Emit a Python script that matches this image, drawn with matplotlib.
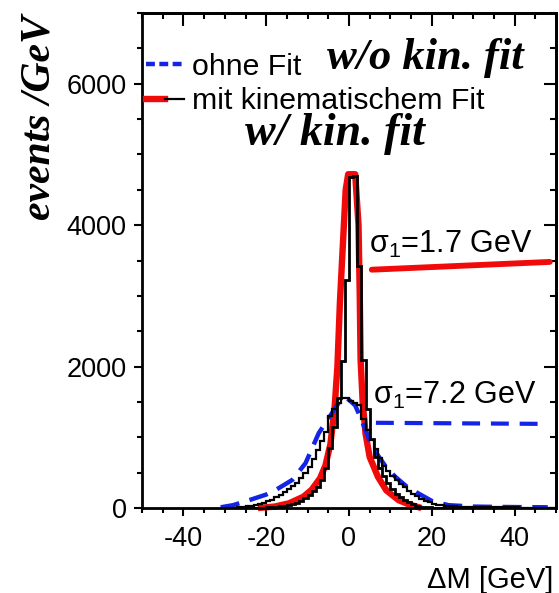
import numpy as np
import matplotlib
matplotlib.use("Agg")
import matplotlib.pyplot as plt
from matplotlib.lines import Line2D
from matplotlib.legend_handler import HandlerTuple
from matplotlib.ticker import MultipleLocator

plt.rcParams['font.family'] = ['Liberation Sans', 'DejaVu Sans']
plt.rcParams['mathtext.fontset'] = 'custom'
plt.rcParams['mathtext.rm'] = 'Liberation Sans'
plt.rcParams['axes.unicode_minus'] = False

# Histogram binning (1 GeV bins)
bin_edges = np.arange(-30, 51, 1)

# Mass difference without kinematic fit (events per bin)
counts_no_fit = [
    0, 0, 5, 10, 15, 25, 35, 45, 60, 75,
    95, 120, 150, 190, 230, 270, 310, 360, 420, 500,
    580, 690, 820, 950, 1080, 1300, 1400, 1480, 1560, 1550,
    1520, 1490, 1450, 1260, 1110, 960, 830, 710, 600, 520,
    450, 390, 340, 290, 240, 200, 165, 130, 105, 80,
    62, 48, 38, 30, 26, 22, 20, 18, 16, 14,
    13, 12, 12, 11, 10, 10, 9, 9, 8, 8,
    8, 7, 7, 6, 6, 6, 5, 5, 5, 4,
]

# Mass difference with kinematic fit (events per bin)
counts_kin_fit = [
    0, 0, 0, 0, 0, 0, 0, 2, 3, 5,
    8, 12, 16, 22, 30, 40, 55, 75, 100, 140,
    185, 240, 300, 400, 560, 850, 1150, 1550, 2080, 3230,
    4680, 4700, 3420, 2100, 1400, 980, 720, 560, 450, 350,
    270, 200, 150, 110, 78, 50, 32, 20, 12, 8,
    5, 3, 2, 1, 0, 0, 0, 0, 0, 0,
    0, 0, 0, 0, 0, 0, 0, 0, 0, 0,
    0, 0, 0, 0, 0, 0, 0, 0, 0, 0,
]

# Fitted curves
fit_no_x = [-31, -28, -24, -20, -17.7, -13.7, -10.5, -7.3, -4.1, -2, -1, 0,
            1.5, 3, 5.5, 8.7, 11.1, 14, 16.7, 20, 24, 30, 36, 42, 48]
fit_no_y = [10, 40, 113, 190, 255, 397, 634, 1060, 1343, 1530, 1560, 1530,
            1450, 1250, 870, 600, 445, 300, 208, 100, 40, 20, 15, 12, 10]

fit_kin_x = [-22, -18, -14.5, -11, -9, -7, -5.7, -4.5, -3.5, -2.8, -2.2, -1.5,
             -0.8, -0.2, 1.5, 2.3, 2.6, 2.8, 3.3, 4, 5, 7, 9, 12, 14.5, 17.5]
fit_kin_y = [0, 20, 66, 160, 260, 420, 600, 900, 1400, 2000, 2900, 3700,
             4500, 4720, 4720, 4000, 3000, 2100, 1500, 1050, 720, 440, 250,
             110, 50, 0]

sigma_kin = 1.7
sigma_no = 7.2

RED = '#f00a0a'
BLUE = '#1424e6'

fig = plt.figure(figsize=(5.59, 5.93), dpi=100)
ax = fig.add_axes([142 / 559, 1 - 508 / 593, 414 / 559, 495 / 593])

# fits underneath, histograms on top
ax.plot(fit_kin_x, fit_kin_y, color=RED, lw=4.6, solid_capstyle='butt',
        zorder=2, clip_on=False)
ax.plot(fit_no_x, fit_no_y, color=BLUE, lw=3.2, dashes=(4.3, 2.4),
        zorder=2)
ax.stairs(counts_no_fit, bin_edges, color='black', lw=1.6, zorder=3)
ax.stairs(counts_kin_fit, bin_edges, color='black', lw=2.0, zorder=3)

ax.set_xlim(-50, 50)
ax.set_ylim(0, 7000)
ax.xaxis.set_major_locator(MultipleLocator(20))
ax.xaxis.set_minor_locator(MultipleLocator(5))
ax.yaxis.set_major_locator(MultipleLocator(2000))
ax.yaxis.set_minor_locator(MultipleLocator(500))
ax.tick_params(which='both', direction='out', width=1.5, labelsize=19.5)
ax.tick_params(axis='x', pad=7)
ax.tick_params(axis='y', pad=5)
ax.tick_params(which='major', length=6)
ax.tick_params(which='minor', length=3.5)
for s in ax.spines.values():
    s.set_linewidth(2.0)

# mirrored inward ticks on the top and right edges
top = ax.secondary_xaxis('top')
top.xaxis.set_major_locator(MultipleLocator(20))
top.xaxis.set_minor_locator(MultipleLocator(5))
top.tick_params(which='both', direction='in', labeltop=False, width=1.5)
top.tick_params(which='major', length=9)
top.tick_params(which='minor', length=4)
top.spines['top'].set_linewidth(2.0)
right = ax.secondary_yaxis('right')
right.yaxis.set_major_locator(MultipleLocator(2000))
right.yaxis.set_minor_locator(MultipleLocator(500))
right.tick_params(which='both', direction='in', labelright=False, width=1.5)
right.tick_params(which='major', length=9)
right.tick_params(which='minor', length=4)
right.spines['right'].set_linewidth(2.0)

# legend
h_no = Line2D([], [], color=BLUE, lw=3.2, dashes=(2.0, 1.0))
h_kin_red = Line2D([], [], color=RED, lw=4.6)
h_kin_blk = Line2D([], [], color='black', lw=1.6)
ax.legend([h_no, (h_kin_red, h_kin_blk)],
          ['ohne Fit', 'mit kinematischem Fit'],
          handler_map={tuple: HandlerTuple(ndivide=None)},
          loc='upper left', bbox_to_anchor=(0.01, 0.92), frameon=False,
          fontsize=21.8, handlelength=1.25, handletextpad=0.25,
          labelspacing=0.22, borderpad=0, borderaxespad=0)

# fit widths
ax.text(4.8, 3730, 'σ$_\\mathregular{1}$=%.1f GeV' % sigma_kin,
        fontsize=22, ha='left', va='center')
ax.plot([5.5, 48.5], [3370, 3480], color=RED, lw=4.2,
        solid_capstyle='round')
ax.text(5.8, 1590, 'σ$_\\mathregular{1}$=%.1f GeV' % sigma_no,
        fontsize=22, ha='left', va='center')
ax.plot([6.5, 46], [1205, 1190], color=BLUE, lw=3.0, dashes=(4.3, 2.6))

# handwritten notes
hand = dict(family='Liberation Serif', style='italic', weight='bold',
            color='black')
fig.text(40 / 559, 1 - 118 / 593, 'events /GeV', rotation=90,
         ha='center', va='center', fontsize=30, **hand)
fig.text(425 / 559, 1 - 58 / 593, 'w/o kin. fit', ha='center',
         va='center', fontsize=32, **hand)
fig.text(335 / 559, 1 - 134 / 593, 'w/ kin. fit', ha='center',
         va='center', fontsize=33, **hand)

fig.text(553 / 559, 1 - 580 / 593, 'ΔM [GeV]', ha='right', va='center',
         fontsize=21)

fig.savefig('out.png', dpi=100)
